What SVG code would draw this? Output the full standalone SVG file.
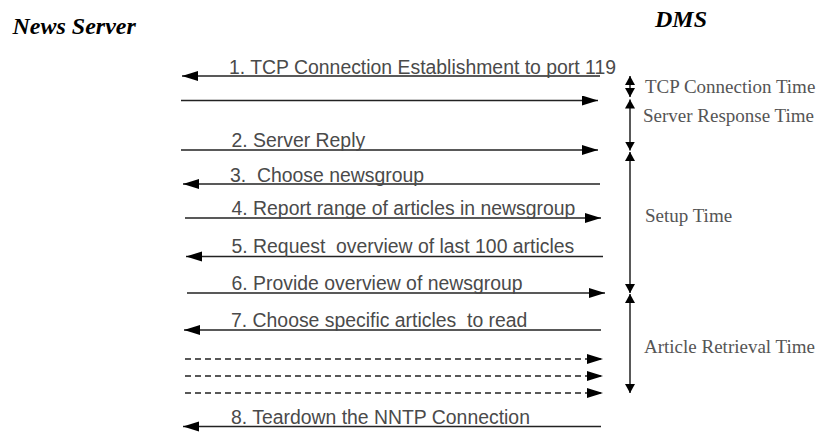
<svg xmlns="http://www.w3.org/2000/svg" width="822" height="435" viewBox="0 0 822 435">
<style>
.title{font-family:"Liberation Serif","Times New Roman",serif;font-weight:bold;font-style:italic;font-size:24px;fill:#000}
.msg{font-family:"Liberation Sans",Arial,sans-serif;font-size:19.4px;fill:#4a4a4a}
.dur{font-family:"Liberation Serif","Times New Roman",serif;font-size:19px;fill:#555}
.ln{stroke:#222;stroke-width:1.5;fill:none;marker-end:url(#ah)}
.dash{stroke-dasharray:6 4}
.vl{stroke:#222;stroke-width:1.5;fill:none;marker-start:url(#vh);marker-end:url(#vh)}
</style>
<defs>
<marker id="ah" markerUnits="userSpaceOnUse" markerWidth="17" markerHeight="11" refX="16" refY="5" orient="auto">
<path d="M0,0 L16,5 L0,10 z" fill="#000"/>
</marker>
<marker id="vh" markerUnits="userSpaceOnUse" markerWidth="10" markerHeight="11" refX="9" refY="5" orient="auto-start-reverse">
<path d="M0,0 L9,5 L0,10 z" fill="#000"/>
</marker>
</defs>
<rect width="822" height="435" fill="#fff"/>
<g id="news-server"><text class="title" x="12.5" y="33.5">News Server</text></g>
<g id="dms"><text class="title" x="655" y="27">DMS</text></g>
<g id="connectors">
<line class="ln" x1="600" y1="76" x2="182" y2="76"/>
<line class="ln" x1="181" y1="100.5" x2="598" y2="100.5"/>
<line class="ln" x1="181" y1="150" x2="598" y2="150"/>
<line class="ln" x1="600" y1="184" x2="183" y2="184"/>
<line class="ln" x1="185" y1="218" x2="601" y2="218"/>
<line class="ln" x1="603" y1="256.5" x2="186" y2="256.5"/>
<line class="ln" x1="187" y1="293" x2="605" y2="293"/>
<line class="ln" x1="601" y1="330" x2="184" y2="330"/>
<line class="ln dash" x1="185" y1="359" x2="603" y2="359"/>
<line class="ln dash" x1="185" y1="376" x2="603" y2="376"/>
<line class="ln dash" x1="185" y1="393" x2="603" y2="393"/>
<line class="ln" x1="601" y1="426.5" x2="183" y2="426.5"/>
</g>
<g id="messages">
<text class="msg" x="229" y="73.5">1. TCP Connection Establishment to port 119</text>
<text class="msg" x="231.5" y="146.5">2. Server Reply</text>
<text class="msg" x="230" y="181.5">3.&#160; Choose newsgroup</text>
<text class="msg" x="231.5" y="215">4. Report range of articles in newsgroup</text>
<text class="msg" x="231.5" y="253">5. Request&#160; overview of last 100 articles</text>
<text class="msg" x="231.5" y="290">6. Provide overview of newsgroup</text>
<text class="msg" x="231" y="327">7. Choose specific articles&#160; to read</text>
<text class="msg" x="231" y="424">8. Teardown the NNTP Connection</text>
</g>
<g id="durations">
<line class="vl" x1="630" y1="76" x2="630" y2="97"/>
<line class="vl" x1="630" y1="99.5" x2="630" y2="150.5"/>
<line class="vl" x1="630" y1="152" x2="630" y2="293"/>
<line class="vl" x1="630" y1="294" x2="630" y2="393"/>
<text class="dur" x="645" y="93">TCP Connection Time</text>
<text class="dur" x="643" y="121.5">Server Response Time</text>
<text class="dur" x="645" y="221.5">Setup Time</text>
<text class="dur" x="644" y="352.5">Article Retrieval Time</text>
</g>
</svg>
